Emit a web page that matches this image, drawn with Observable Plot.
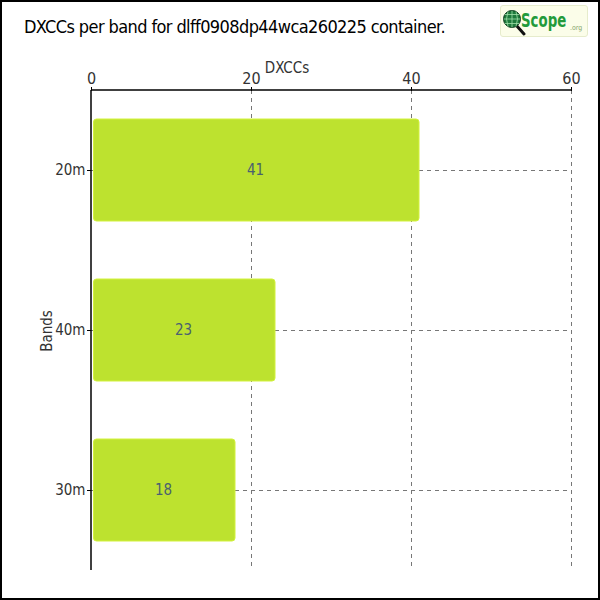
<!DOCTYPE html>
<html><head><meta charset="utf-8">
<script src="https://cdn.jsdelivr.net/npm/d3@7"></script>
<script src="https://cdn.jsdelivr.net/npm/@observablehq/plot@0.6"></script>
<style>
body{margin:0;background:#fff;}
#wrap{position:relative;width:600px;height:600px;overflow:hidden;font-family:"DejaVu Sans Condensed","DejaVu Sans",sans-serif;font-stretch:condensed;}
#chart svg text{font-stretch:condensed;}
#frame{position:absolute;left:0;top:0;width:600px;height:600px;box-sizing:border-box;border:2px solid #000;pointer-events:none;}
#title{position:absolute;left:24px;top:16px;font-size:18px;line-height:22px;color:#000;white-space:nowrap;letter-spacing:-0.6px;}
#xlabel{position:absolute;left:287px;top:59px;transform:translateX(-50%);font-size:15px;line-height:18px;color:#333;}
#ylabel{position:absolute;left:47px;top:331px;transform:translate(-50%,-50%) rotate(-90deg);font-size:15px;line-height:18px;color:#333;}
#logo{position:absolute;left:500px;top:5px;width:88px;height:32px;box-sizing:border-box;background:#fbfde9;border:1px solid #e6eccc;border-radius:3px;}
#logo .txt{position:absolute;left:20px;top:3px;font-size:20px;line-height:22px;color:#229a3a;font-weight:bold;transform:scaleX(0.74);transform-origin:0 0;white-space:nowrap;}
#logo .org{position:absolute;left:69px;top:18px;font-size:7px;line-height:8px;color:#8aa870;}
</style></head>
<body>
<div id="wrap">
  <div id="chart"></div>
  <div id="title">DXCCs per band for dlff0908dp44wca260225 container.</div>
  <div id="xlabel">DXCCs</div>
  <div id="ylabel">Bands</div>
  <div id="logo">
    <svg width="24" height="32" style="position:absolute;left:1px;top:0">
      <line x1="14" y1="19" x2="22" y2="28" stroke="#111" stroke-width="3" stroke-linecap="round"/>
      <circle cx="10" cy="13" r="8.5" fill="#1d7a3c" stroke="#0d3a1c" stroke-width="1"/>
      <path d="M10 4.5 V21.5 M1.5 13 H18.5 M6 5.5 Q3 13 6 20.5 M14 5.5 Q17 13 14 20.5 M3 8.5 H17 M3 17.5 H17" stroke="#9fe0a8" stroke-width="0.8" fill="none"/>
    </svg>
    <div class="txt">Scope</div>
    <div class="org">.org</div>
  </div>
  <div id="frame"></div>
</div>
<script>
const bands = ["20m", "40m", "30m"];
const dxccs = [41, 23, 18];
const xTicks = [0, 20, 40, 60];

const data = bands.map((b, i) => ({band: b, value: dxccs[i]}));

const axisLines = (index, scales, values, dim) => {
  const g = d3.create("svg:g");
  const x0 = dim.marginLeft, x1 = dim.width - dim.marginRight;
  const y0 = dim.marginTop, y1 = dim.height - dim.marginBottom;
  g.append("line").attr("x1", x0).attr("x2", x1).attr("y1", y0).attr("y2", y0)
    .attr("stroke", "#000").attr("stroke-width", 1.5);
  g.append("line").attr("x1", x0).attr("x2", x0).attr("y1", y0).attr("y2", y1)
    .attr("stroke", "#000").attr("stroke-width", 1.5);
  return g.node();
};

const chart = Plot.plot({
  width: 600,
  height: 600,
  marginTop: 90,
  marginLeft: 91,
  marginRight: 29,
  marginBottom: 30,
  style: {fontFamily: '"DejaVu Sans Condensed","DejaVu Sans",sans-serif', fontSize: "16px", color: "#333", background: "transparent"},
  x: {domain: [0, 60], axis: null},
  y: {domain: bands, paddingInner: 0.36, paddingOuter: 0.18, axis: null},
  marks: [
    Plot.gridX(xTicks.slice(1), {stroke: "#777", strokeOpacity: 1, strokeDasharray: "4,4"}),
    Plot.gridY(bands, {stroke: "#777", strokeOpacity: 1, strokeDasharray: "4,4"}),
    Plot.barX(data, {x: "value", y: "band", fill: "#bde22f", stroke: "#d3f23c", strokeWidth: 1, rx: 3, insetLeft: 2.5}),
    Plot.text(data, {x: d => d.value / 2, y: "band", text: d => String(d.value), fill: "#4a6070", fontSize: 15}),
    Plot.axisX({anchor: "top", ticks: xTicks, tickSize: 4, tickPadding: 3, label: null, stroke: "#000", fill: "#333", fontSize: 16}),
    Plot.axisY({anchor: "left", tickSize: 4, tickPadding: 2, label: null, stroke: "#000", fill: "#333", fontSize: 15}),
    axisLines
  ]
});
document.getElementById("chart").appendChild(chart);
</script>
</body></html>
